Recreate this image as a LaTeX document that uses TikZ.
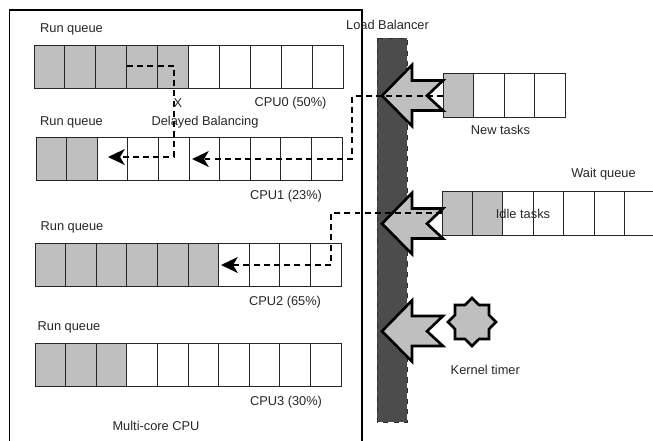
\documentclass[tikz,border=0pt]{standalone}
\usepackage{fontspec}
\setmainfont{Liberation Sans}
\usetikzlibrary{arrows.meta}
\usetikzlibrary{shapes.geometric}
\definecolor{cellgray}{gray}{0.75}
\definecolor{bargray}{gray}{0.3}
\tikzset{
  lbl/.style={font=\fontsize{7.3pt}{9pt}\selectfont, text=black!85, inner sep=0pt, yshift=-0.4pt},
  cell/.style={draw=black!85, line width=0.55pt},
  busy/.style={cell, fill=cellgray},
  blockarrow/.style={draw=black, line width=1.5pt, fill=cellgray, miter limit=10},
  movepath/.style={line width=1.1pt, dash pattern=on 3.4pt off 2.4pt, -{Stealth[length=9.5pt, width=9pt, inset=2.6pt]}}
}
\begin{document}
\begin{tikzpicture}[x=0.02cm, y=-0.02cm]
  \useasboundingbox (0,0) rectangle (653,440);
  % multi-core box, no bottom edge in view
  \draw[line width=0.9pt] (9.5,441) -- (9.5,10) -- (362,10) -- (362,441);
  % queues: left / top / cell width / cells / busy cells
  \foreach \xx/\yy/\wd/\cnt/\full in {34/45/30.9/10/5, 36/137/30.6/10/2, 35/243/30.6/10/6, 35/343/30.6/10/3, 443/73.5/30.5/4/1}{
    \foreach \i in {1,...,\cnt}{
      \ifnum\i>\full
        \draw[cell] ({\xx+(\i-1)*\wd},\yy) rectangle ({\xx+\i*\wd},\yy+43.5);
      \else
        \draw[busy] ({\xx+(\i-1)*\wd},\yy) rectangle ({\xx+\i*\wd},\yy+43.5);
      \fi
    }
  }
  % wait queue runs off the page
  \foreach \i in {1,...,7}{
    \ifnum\i>2
      \draw[cell] ({442+(\i-1)*30.4},191) rectangle ({442+\i*30.4},235);
    \else
      \draw[busy] ({442+(\i-1)*30.4},191) rectangle ({442+\i*30.4},235);
    \fi
  }
  \draw[bargray!60!black, fill=bargray, dashed, line width=0.5pt] (377,38) rectangle (407,422);
  \foreach \yy in {0,128,235.5}{
    \draw[blockarrow] (382,95.7+\yy) -- (412,65+\yy) -- (412,80.5+\yy) -- (443,80.5+\yy)
      -- (427,95.7+\yy) -- (443,110.5+\yy) -- (412,110.5+\yy) -- (412,126+\yy) -- cycle;
  }
  \node[star, star points=8, star point ratio=1.3, minimum size=0.96cm, inner sep=0pt,
        draw=black, line width=1.5pt, fill=cellgray] (timer) at (472,322) {};
  % moves between queues
  \coordinate (delaystart) at (127,66);
  \coordinate (delaybend) at (174,66);
  \coordinate (delaylow) at (174,157);
  \coordinate (delayend) at (108,157);
  \coordinate (newstart) at (443,96);
  \coordinate (newbend) at (352,96);
  \coordinate (newlow) at (352,159);
  \coordinate (newend) at (192,159);
  \coordinate (idlestart) at (442,213);
  \coordinate (idlebend) at (331,213);
  \coordinate (idlelow) at (331,265);
  \coordinate (idleend) at (221,265);
  \draw[movepath] (delaystart)--(delaybend)--(delaylow)--(delayend);
  \draw[movepath] (newstart)--(newbend)--(newlow)--(newend);
  \draw[movepath] (idlestart)--(idlebend)--(idlelow)--(idleend);
  \node[lbl] (rq0) at (71.5,29){Run queue};
  \node[lbl] (rq1) at (71.5,122){Run queue};
  \node[lbl] (rq2) at (72,227){Run queue};
  \node[lbl] (rq3) at (69,327){Run queue};
  \node[lbl] (cpu0) at (290.5,102){CPU0 (50\%)};
  \node[lbl] (cpu1) at (286,195){CPU1 (23\%)};
  \node[lbl] (cpu2) at (285,301){CPU2 (65\%)};
  \node[lbl] (cpu3) at (286,401){CPU3 (30\%)};
  \node[lbl] (mark) at (178,102.5){X};
  \node[lbl] (delayed) at (205,121){Delayed Balancing};
  \node[lbl] (multi) at (156,425.5){Multi-core CPU};
  \node[lbl] (balancer) at (387.5,24.5){Load Balancer};
  \node[lbl] (newtasks) at (500.5,129){New tasks};
  \node[lbl] (waitq) at (603.5,173.5){Wait queue};
  \node[lbl] (idle) at (523,213){Idle tasks};
  \node[lbl] (kernel) at (485.3,369){Kernel timer};
\end{tikzpicture}
\end{document}
